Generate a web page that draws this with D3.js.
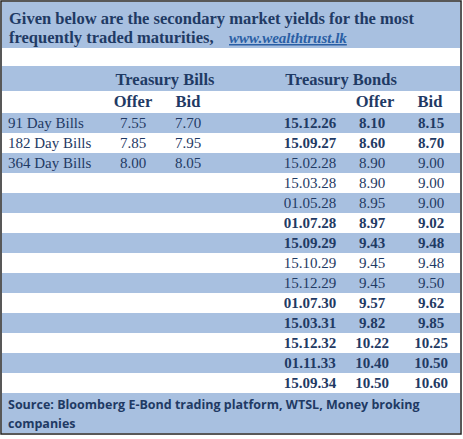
<!DOCTYPE html>
<html><head><meta charset="utf-8">
<script src="https://d3js.org/d3.v7.min.js"></script>
<style>body{margin:0;background:#fff}</style>
</head><body>
<svg id="chart"></svg>
<script>
// data
const billNames = ["91 Day Bills", "182 Day Bills", "364 Day Bills"];
const billOffer = ["7.55", "7.85", "8.00"];
const billBid = ["7.70", "7.95", "8.05"];
const bondDates = ["15.12.26","15.09.27","15.02.28","15.03.28","01.05.28","01.07.28","15.09.29",
    "15.10.29","15.12.29","01.07.30","15.03.31","15.12.32","01.11.33","15.09.34"];
const bondOffer = ["8.10","8.60","8.90","8.90","8.95","8.97","9.43","9.45","9.45","9.57","9.82","10.22","10.40","10.50"];
const bondBid = ["8.15","8.70","9.00","9.00","9.00","9.02","9.48","9.48","9.50","9.62","9.85","10.25","10.50","10.60"];
const boldRows = [true,true,false,false,false,true,true,false,false,true,true,true,true,true];

const W = 463, H = 439;
const blue = "#a8c0e0", ink = "#1f3a64", serif = "Liberation Serif, Times New Roman, serif";
const svg = d3.select("#chart").attr("width", W).attr("height", H);

const rowTop = 113, rowH = 20;
const y = d3.scaleBand().domain(d3.range(bondDates.length)).range([rowTop, rowTop + rowH*bondDates.length]);

// backgrounds
svg.append("rect").attr("x",2).attr("y",2).attr("width",458).attr("height",46).attr("fill",blue);
svg.append("rect").attr("x",2).attr("y",66).attr("width",458).attr("height",25).attr("fill",blue);
svg.selectAll("rect.stripe").data(d3.range(bondDates.length).filter(i => i%2==0)).join("rect")
    .attr("class","stripe").attr("x",2).attr("y",d=>y(d)).attr("width",458).attr("height",y.bandwidth()).attr("fill",blue);
svg.append("rect").attr("x",2).attr("y",y.range()[1]).attr("width",458).attr("height",433-y.range()[1]).attr("fill",blue);
svg.append("rect").attr("x",1).attr("y",1).attr("width",460).attr("height",433)
    .attr("fill","none").attr("stroke","#222").attr("stroke-width",1.5);

// title
const t = svg.append("g").attr("font-family",serif).attr("font-weight","bold").attr("font-size",16.5).attr("fill",ink);
t.append("text").attr("x",9).attr("y",24).text("Given below are the secondary market yields for the most");
t.append("text").attr("x",9).attr("y",43).text("frequently traded maturities,");
t.append("text").attr("x",229).attr("y",43).attr("font-style","italic").attr("font-size",15).attr("fill","#2a5fa5")
    .attr("text-decoration","underline").text("www.wealthtrust.lk");

// headers
const h = svg.append("g").attr("font-family",serif).attr("font-weight","bold").attr("font-size",16.5).attr("fill",ink).attr("text-anchor","middle");
h.append("text").attr("x",165).attr("y",85).text("Treasury Bills");
h.append("text").attr("x",341).attr("y",85).text("Treasury Bonds");
[[133,"Offer"],[188,"Bid"],[375,"Offer"],[430,"Bid"]].forEach(([x,s]) => h.append("text").attr("x",x).attr("y",107).text(s));

// rows
const body = svg.append("g").attr("font-family",serif).attr("font-size",15).attr("fill",ink);
const ty = i => y(i) + 15;
billNames.forEach((n,i) => {
    body.append("text").attr("x",8).attr("y",ty(i)).text(n);
    body.append("text").attr("x",133).attr("y",ty(i)).attr("text-anchor","middle").text(billOffer[i]);
    body.append("text").attr("x",188).attr("y",ty(i)).attr("text-anchor","middle").text(billBid[i]);
});
bondDates.forEach((d,i) => {
    const g = body.append("g").attr("font-weight", boldRows[i] ? "bold" : "normal").attr("text-anchor","middle");
    g.append("text").attr("x",310).attr("y",ty(i)).text(d);
    g.append("text").attr("x",372).attr("y",ty(i)).text(bondOffer[i]);
    g.append("text").attr("x",431).attr("y",ty(i)).text(bondBid[i]);
});

// source
const s = svg.append("g").attr("font-family","Open Sans, sans-serif").attr("font-weight","bold").attr("font-size",12.5).attr("fill",ink);
s.append("text").attr("x",8).attr("y",409).text("Source: Bloomberg E-Bond trading platform, WTSL, Money broking");
s.append("text").attr("x",8).attr("y",428).text("companies");
</script>
</body></html>
